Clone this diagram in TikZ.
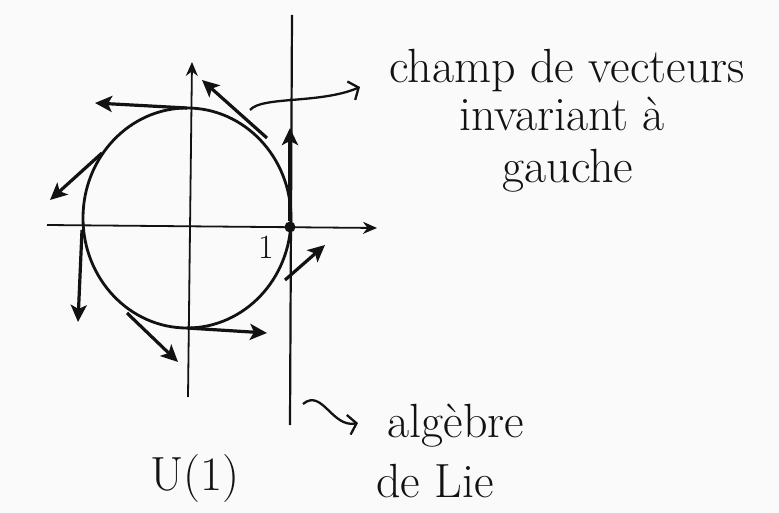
\documentclass[tikz,border=0pt]{standalone}
\usetikzlibrary{arrows.meta}
\definecolor{ink}{HTML}{121212}
\definecolor{paper}{HTML}{FAFAFA}
\tikzset{
  pen/.style={draw=ink, line width=2.2pt},
  axis/.style={draw=ink, line width=1.8pt, -{Stealth[length=14pt,width=12pt]}},
  vec/.style={draw=ink, line width=3.2pt, -{Stealth[length=17pt,width=16pt,inset=4pt]}},
  pointer/.style={draw=ink, line width=2.3pt, -{Straight Barb[length=8pt,width=20pt]}},
  note/.style={font=\fontsize{48}{52}\selectfont, text=ink, inner sep=0pt, anchor=base},
}

\begin{document}
\begin{tikzpicture}[x=1pt, y=-1pt]
    \fill[paper] (0,0) rectangle (779,513);
    \useasboundingbox (0,0) rectangle (779,513);

    \draw[axis] (47,225) -- (377,228);
    \draw[axis] (188,397) -- (192,62);
    \coordinate (tTop) at (292,15);
    \coordinate (tBot) at (290,425);
    \draw[pen] (tTop) -- (tBot);
    \draw[pen, line width=2.8pt] (187,218) ellipse [x radius=104pt, y radius=110pt];

    \node[circle, fill=ink, inner sep=0pt, minimum size=11pt] (e) at (290,227) {};
    \node[font=\fontsize{34}{36}\selectfont, text=ink, inner sep=0pt] (one) at (266,247) {1};

    \coordinate (a1) at (187,108);  \coordinate (b1) at (95,103);
    \coordinate (a2) at (267,138);  \coordinate (b2) at (202,80);
    \coordinate (a3) at (102,153);  \coordinate (b3) at (50,200);
    \coordinate (a4) at (82,230);   \coordinate (b4) at (78,322);
    \coordinate (a5) at (127,313);  \coordinate (b5) at (178,362);
    \coordinate (a6) at (187,328);  \coordinate (b6) at (267,333);
    \coordinate (a7) at (285,280);  \coordinate (b7) at (325,245);
    \coordinate (b8) at (290,128);
    \draw[vec] (a1) -- (b1);
    \draw[vec] (a2) -- (b2);
    \draw[vec] (a3) -- (b3);
    \draw[vec] (a4) -- (b4);
    \draw[vec] (a5) -- (b5);
    \draw[vec] (a6) -- (b6);
    \draw[vec] (a7) -- (b7);
    \draw[vec] (e) -- (b8);

    \node[note] (champ) at (567,83) {champ de vecteurs};
    \node[note] (inv) at (562,131) {invariant à};
    \node[note] (gau) at (568,183) {gauche};
    \node[note] (alg) at (456,437) {algèbre};
    \node[note] (lie) at (435,497) {de Lie};
    \node[note] (grp) at (195,490) {U(1)};

    \coordinate (c1) at (250,110);
    \coordinate (d1) at (360,87);
    \draw[pointer] (c1) .. controls (262,96) and (320,104) .. (d1);
    \coordinate (c2) at (303,404);
    \coordinate (d2) at (358,423);
    \draw[pointer] (c2) .. controls (322,388) and (332,428) .. (d2);
\end{tikzpicture}
\end{document}
